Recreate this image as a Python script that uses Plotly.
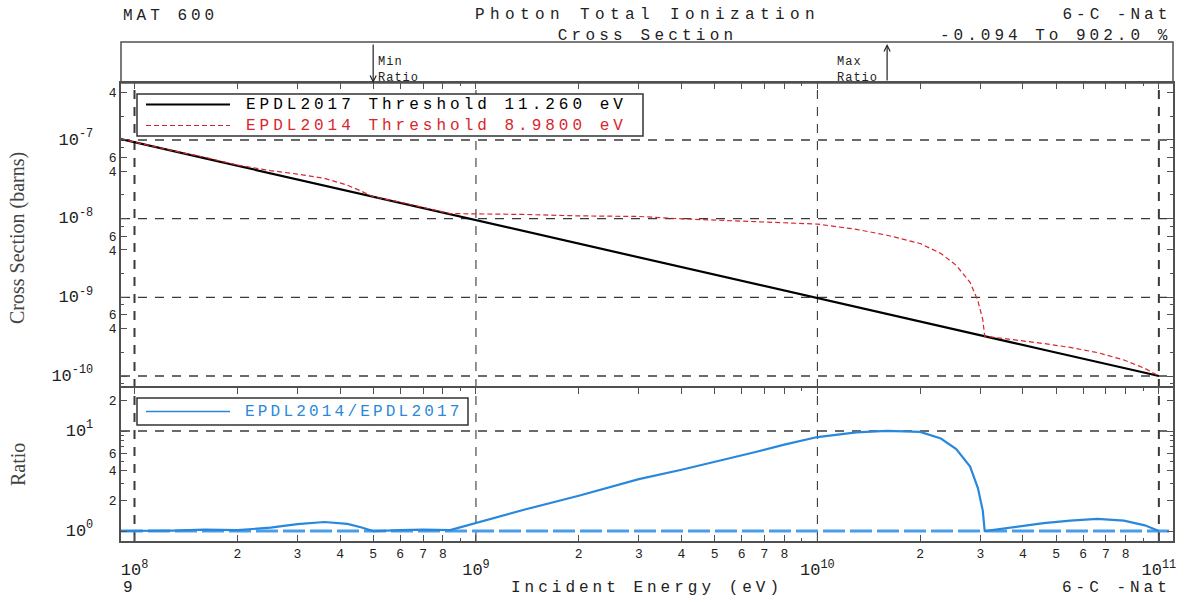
import numpy as np
import plotly.graph_objects as go
from plotly.subplots import make_subplots

# ---- data (energies in eV, cross sections in barns) ----
energy_ev = [9.1e7, 1.0e8, 1.3e8, 1.6e8, 2.0e8, 2.5e8, 3.0e8, 3.6e8, 4.2e8, 4.6e8,
             5.0e8, 6.0e8, 7.0e8, 8.4e8, 1.0e9, 1.4e9, 2.0e9, 3.0e9, 4.0e9, 5.0e9,
             6.5e9, 8.0e9, 1.0e10, 1.3e10, 1.6e10, 2.0e10, 2.3e10, 2.55e10, 2.8e10, 2.95e10,
             3.05e10, 3.09e10, 3.7e10, 4.6e10, 5.5e10, 6.6e10, 7.9e10, 9.1e10, 1.0e11]

xs_epdl2017 = [1.03e-7, 9.35e-8, 7.21e-8, 5.87e-8, 4.71e-8, 3.78e-8, 3.15e-8, 2.64e-8, 2.26e-8, 2.06e-8,
               1.90e-8, 1.59e-8, 1.36e-8, 1.14e-8, 9.57e-9, 6.86e-9, 4.82e-9, 3.23e-9, 2.43e-9, 1.95e-9,
               1.50e-9, 1.22e-9, 9.80e-10, 7.55e-10, 6.15e-10, 4.93e-10, 4.30e-10, 3.87e-10, 3.53e-10, 3.36e-10,
               3.25e-10, 3.21e-10, 2.68e-10, 2.16e-10, 1.82e-10, 1.51e-10, 1.26e-10, 1.10e-10, 1.00e-10]

xs_epdl2014 = [1.03e-7, 9.35e-8, 7.28e-8, 6.05e-8, 4.80e-8, 4.08e-8, 3.69e-8, 3.25e-8, 2.67e-8, 2.25e-8,
               1.898e-8, 1.62e-8, 1.40e-8, 1.16e-8, 1.15e-8, 1.13e-8, 1.085e-8, 1.066e-8, 9.96e-9, 9.56e-9,
               9.15e-9, 8.90e-9, 8.53e-9, 7.32e-9, 6.16e-9, 4.83e-9, 3.61e-9, 2.55e-9, 1.55e-9, 9.07e-10,
               5.20e-10, 3.21e-10, 2.92e-10, 2.59e-10, 2.31e-10, 1.99e-10, 1.60e-10, 1.25e-10, 1.00e-10]

ratio_14_17 = [1.0, 1.0, 1.01, 1.03, 1.02, 1.08, 1.17, 1.23, 1.18, 1.09,
               0.99906, 1.02, 1.03, 1.02, 1.2, 1.65, 2.25, 3.3, 4.1, 4.9,
               6.1, 7.3, 8.7, 9.7, 10.02, 9.8, 8.4, 6.6, 4.4, 2.7,
               1.6, 1.0, 1.09, 1.2, 1.27, 1.32, 1.27, 1.14, 1.0]

name_2017 = "EPDL2017 Threshold 11.260 eV"
name_2014 = "EPDL2014 Threshold 8.9800 eV"
name_ratio = "EPDL2014/EPDL2017"

MONO = "Liberation Mono"
RED = "#d8262c"
BLUE = "#2a88dc"
FRAME = "#505050"
GRID = "#3a3a3a"
INK = "#222"

# plot area spans x=121..1173, y=83..541 in page pixels
def px(xpx):
    return (xpx - 121) / 1052.0

def py(ypx):
    return (541 - ypx) / 458.0

def spaced(t, ls=4, color=None):
    style = f"letter-spacing:{ls}px"
    if color:
        style += f";color:{color}"
    return f"<span style='{style}'>{t}</span>"

fig = make_subplots(rows=2, cols=1, shared_xaxes=True, row_heights=[305, 153], vertical_spacing=0)

fig.add_trace(go.Scatter(x=energy_ev, y=xs_epdl2017, mode="lines", name=name_2017,
                         line=dict(color="black", width=2.2)), row=1, col=1)
fig.add_trace(go.Scatter(x=energy_ev, y=xs_epdl2014, mode="lines", name=name_2014,
                         line=dict(color=RED, width=1.2, dash="5px,3px")), row=1, col=1)
fig.add_trace(go.Scatter(x=energy_ev, y=ratio_14_17, mode="lines", name=name_ratio,
                         line=dict(color=BLUE, width=2.2)), row=2, col=1)

# ---- ticks: labelled ones are major, unlabelled ones minor ----
x_range = [np.log10(9.13e7), np.log10(1.1e11)]
y1_range = [-10.152, -6.276]
y2_range = [-0.1, 1.43]

def inside(v, rng):
    return rng[0] <= np.log10(v) <= rng[1]

DEC = "<span style='font-size:17px'>10<sup>{}</sup></span>"
NB = "\u00a0"

x_vals, x_text, x_minor = [], [], []
for p in range(7, 12):
    for d in range(1, 10):
        v = d * 10.0 ** p
        if not inside(v, x_range):
            continue
        if d == 1:
            x_vals.append(v)
            x_text.append("<br>" + DEC.format(p))
        elif d <= 8:
            x_vals.append(v)
            x_text.append(str(d))
        else:
            x_minor.append(v)
x_decades = [1e8, 1e9, 1e10, 1e11]

y1_vals, y1_text, y1_minor = [], [], []
for p in range(-11, -6):
    for d in [1, 2, 4, 6, 8]:
        v = d * 10.0 ** p
        if not inside(v, y1_range):
            continue
        if d == 1:
            y1_vals.append(v)
            y1_text.append(DEC.format(p) + NB * 3)
        elif d in (4, 6):
            y1_vals.append(v)
            y1_text.append(str(d))
        else:
            y1_minor.append(v)
y1_decades = [1e-10, 1e-9, 1e-8, 1e-7]

y2_vals = [1, 2, 4, 6, 10, 20]
y2_text = [DEC.format(0) + NB * 3, "2", "4", "6", DEC.format(1) + NB * 3, "2"]
y2_minor = [3, 5, 7, 8, 9]
y2_decades = [10]

axis_common = dict(type="log", showline=True, linecolor=FRAME, linewidth=1.5,
                   ticks="inside", ticklen=6, tickcolor=FRAME, showgrid=False, zeroline=False,
                   tickfont=dict(family=MONO, size=13, color=INK))
minor_common = dict(tickmode="array", ticks="inside", ticklen=3, tickcolor=FRAME, showgrid=False)

fig.update_xaxes(range=x_range, tickmode="array", tickvals=x_vals, ticktext=x_text, tickangle=0,
                 minor=dict(minor_common, tickvals=x_minor), **axis_common)
fig.update_xaxes(showticklabels=False, side="top", mirror=False, row=1, col=1)
fig.update_xaxes(mirror="ticks", row=2, col=1)

fig.update_yaxes(range=y1_range, tickmode="array", tickvals=y1_vals, ticktext=y1_text,
                 mirror="ticks", minor=dict(minor_common, tickvals=y1_minor), row=1, col=1, **axis_common)
fig.update_yaxes(range=y2_range, tickmode="array", tickvals=y2_vals, ticktext=y2_text,
                 mirror="ticks", minor=dict(minor_common, tickvals=y2_minor), row=2, col=1, **axis_common)

# dashed decade grid
def grid_line(width=1.2):
    return dict(color=GRID, width=width, dash="9px,8px")

for xa, ya in [("x", "y"), ("x2", "y2")]:
    for v in x_decades:
        heavy = v in (x_decades[0], x_decades[-1])
        fig.add_shape(type="line", xref=xa, yref=f"{ya} domain", x0=v, x1=v, y0=0, y1=1,
                      line=grid_line(2.0 if heavy else 1.1), layer="below")
for v in y1_decades:
    fig.add_shape(type="line", xref="x domain", yref="y", x0=0, x1=1, y0=v, y1=v,
                  line=grid_line(1.4), layer="below")
for v in y2_decades:
    fig.add_shape(type="line", xref="x2 domain", yref="y2", x0=0, x1=1, y0=v, y1=v,
                  line=grid_line(1.4), layer="below")

# ratio = 1 reference line
fig.add_shape(type="line", xref="x2 domain", x0=0, x1=1, yref="y2", y0=1, y1=1,
              line=dict(color="#4a9ee8", width=3, dash="22px,5px"), layer="below")

# ---- legends drawn as boxes in the panels ----
leg_font = dict(family=MONO, size=16, color="black")
fig.add_shape(type="rect", xref="paper", yref="paper", x0=px(137), x1=px(643), y0=py(94), y1=py(136),
              line=dict(color="#333", width=1.5), fillcolor="white", layer="above")
fig.add_shape(type="line", xref="paper", yref="paper", x0=px(146), x1=px(230), y0=py(104.5), y1=py(104.5),
              line=dict(color="black", width=2), layer="above")
fig.add_shape(type="line", xref="paper", yref="paper", x0=px(146), x1=px(230), y0=py(125.5), y1=py(125.5),
              line=dict(color=RED, width=1.2, dash="5px,3px"), layer="above")
fig.add_annotation(x=px(244), y=py(115), xref="paper", yref="paper", showarrow=False,
                   xanchor="left", yanchor="middle", align="left", font=leg_font,
                   text=spaced(name_2017, 4, "black") + "<br>" + spaced(name_2014, 4, RED))

fig.add_shape(type="rect", xref="paper", yref="paper", x0=px(137), x1=px(468), y0=py(398), y1=py(425),
              line=dict(color="#333", width=1.5), fillcolor="white", layer="above")
fig.add_shape(type="line", xref="paper", yref="paper", x0=px(146), x1=px(230), y0=py(411.5), y1=py(411.5),
              line=dict(color=BLUE, width=1.5), layer="above")
fig.add_annotation(x=px(243), y=py(411.5), xref="paper", yref="paper", showarrow=False,
                   xanchor="left", yanchor="middle", align="left",
                   font=dict(family=MONO, size=16, color=BLUE), text=spaced(name_ratio, 3.2, BLUE))

# header box with min / max ratio markers
fig.add_shape(type="rect", xref="paper", yref="paper", x0=0, x1=1, y0=1, y1=py(42),
              line=dict(color=FRAME, width=1.5))

i_min = int(np.argmin(ratio_14_17))
i_max = int(np.argmax(ratio_14_17))
e_min = energy_ev[i_min]
e_max = energy_ev[i_max]
pct_min = (ratio_14_17[i_min] - 1) * 100
pct_max = (ratio_14_17[i_max] - 1) * 100

arrow_style = dict(showarrow=True, arrowhead=5, arrowsize=1, arrowwidth=1.2, arrowcolor=INK,
                   ax=0, text="", xref="x", yref="paper")
fig.add_annotation(x=np.log10(e_min), y=1, ay=-40, **arrow_style)
fig.add_annotation(x=np.log10(e_max), y=py(44), ay=38, **arrow_style)

small = dict(family=MONO, size=12, color=INK)
fig.add_annotation(x=np.log10(e_min), y=py(70), xref="x", yref="paper", text=spaced("Min<br>Ratio", 1),
                   showarrow=False, xanchor="left", yanchor="middle", xshift=3, align="left", font=small)
fig.add_annotation(x=np.log10(e_max), y=py(70), xref="x", yref="paper", text=spaced("Max<br>Ratio", 1),
                   showarrow=False, xanchor="right", yanchor="middle", xshift=-7, align="left", font=small)

# header and footer texts (text, letter spacing per line)
big = dict(family=MONO, size=16, color=INK)
texts = [
    (0, py(16), ["MAT 600"], [4], "left"),
    (0.5, py(25), ["Photon Total Ionization", "Cross Section"], [5.4, 4.2], "center"),
    (1, py(25), ["6-C -Nat", f"{pct_min:.3f} To {pct_max:.1f} %"], [4, 4], "right"),
    (0, py(588), ["9"], [4], "left"),
    (0.5, py(588), ["Incident Energy (eV)"], [4], "center"),
    (1, py(588), ["6-C -Nat"], [4], "right"),
]
for x, y, parts, spacing, anchor in texts:
    lines = "<br>".join(spaced(t, s) for t, s in zip(parts, spacing))
    fig.add_annotation(x=x, y=y, xref="paper", yref="paper", text=lines, showarrow=False,
                       xanchor=anchor, yanchor="middle", align=anchor, font=big)

# y axis titles
title_font = dict(family="Liberation Serif", size=20, color="#444")
fig.add_annotation(x=px(18), y=py(238), xref="paper", yref="paper", text="Cross Section (barns)",
                   textangle=-90, showarrow=False, xanchor="center", yanchor="middle", font=title_font)
fig.add_annotation(x=px(18), y=py(465), xref="paper", yref="paper", text="Ratio",
                   textangle=-90, showarrow=False, xanchor="center", yanchor="middle", font=title_font)

fig.update_layout(
    width=1202, height=602,
    margin=dict(l=121, r=29, t=83, b=61),
    paper_bgcolor="white", plot_bgcolor="white",
    showlegend=False,
)

# drop the default 8px body margin so the figure sits at the page corner
fig.write_html("out.html", config={"displayModeBar": False},
               post_script="document.body.style.margin='0px';")
